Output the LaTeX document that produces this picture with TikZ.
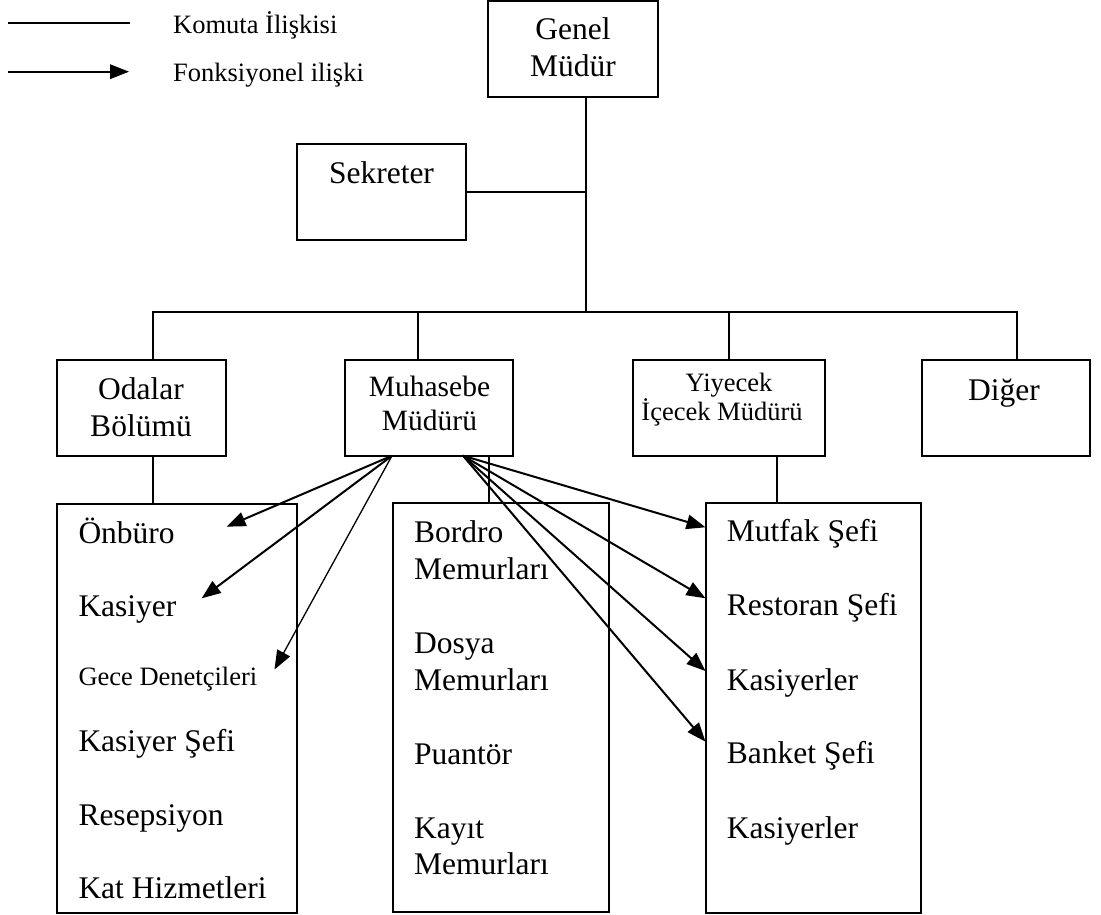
\documentclass[tikz,border=0pt]{standalone}
\usepackage{fontspec}
\setmainfont{Liberation Serif}
\usetikzlibrary{arrows.meta}
\tikzset{
  box/.style={draw, line width=2pt, inner sep=0pt, outer sep=0pt, anchor=north west},
  conn/.style={line width=2pt},
  fx/.style={line width=2pt, -{Triangle[length=19pt,width=14.5pt]}},
  fxthin/.style={line width=1.3pt, -{Triangle[length=19pt,width=14.5pt]}},
  lbl/.style={inner sep=0pt, anchor=base, font=\fontsize{31.5}{36}\selectfont},
  item/.style={inner sep=0pt, anchor=base west, font=\fontsize{31.5}{36}\selectfont},
  mid/.style={font=\fontsize{29.5}{34}\selectfont},
  small/.style={font=\fontsize{26.5}{30}\selectfont},
}
\begin{document}
\begin{tikzpicture}[x=1pt,y=-1pt]
\useasboundingbox (0,0) rectangle (1101,915);

% legend
\coordinate (la1) at (8.3,23.3);
\coordinate (lb1) at (130,23.3);
\coordinate (la2) at (8.3,71.7);
\coordinate (lb2) at (129,71.7);
\draw[conn] (la1) -- (lb1);
\draw[fx] (la2) -- (lb2);
\node[item, small] (lg1) at (173,33.3) {Komuta İlişkisi};
\node[item, small] (lg2) at (173,81.7) {Fonksiyonel ilişki};

% boxes
\node[box, minimum width=169.4pt, minimum height=95.7pt] (gm) at (488.3,1.2) {};
\node[box, minimum width=169.3pt, minimum height=96pt] (sek) at (296.7,144) {};
\node[box, minimum width=169pt, minimum height=96.2pt] (od) at (56.7,359.5) {};
\node[box, minimum width=168.3pt, minimum height=96.2pt] (mm) at (345,359.5) {};
\node[box, minimum width=191.7pt, minimum height=96.2pt] (yi) at (633.3,359.5) {};
\node[box, minimum width=168.3pt, minimum height=96.2pt] (dg) at (921.7,359.5) {};
\node[box, minimum width=240pt, minimum height=408.7pt] (odc) at (57.3,504) {};
\node[box, minimum width=216pt, minimum height=408.7pt] (muc) at (393.3,503.3) {};
\node[box, minimum width=215.5pt, minimum height=409.4pt] (yic) at (705.5,503.3) {};

% box labels
\node[lbl] (gm1) at (573,40) {Genel};
\node[lbl] (gm2) at (573,77) {Müdür};
\node[lbl] (sek1) at (381.5,184) {Sekreter};
\node[lbl] (od1) at (141,399.3) {Odalar};
\node[lbl] (od2) at (141,436.7) {Bölümü};
\node[lbl, mid] (mm1) at (429.5,396.7) {Muhasebe};
\node[lbl, mid] (mm2) at (429.5,430) {Müdürü};
\node[lbl, small] (yi1) at (729,391.7) {Yiyecek};
\node[lbl, small] (yi2) at (722,420) {İçecek Müdürü};
\node[lbl] (dg1) at (1004,400) {Diğer};

% left child list
\node[item] (o1) at (78.3,543.3) {Önbüro};
\node[item] (o2) at (78.3,616.7) {Kasiyer};
\node[item, small] (o3) at (78.3,685) {Gece Denetçileri};
\node[item] (o4) at (78.3,751.7) {Kasiyer Şefi};
\node[item] (o5) at (78.3,825) {Resepsiyon};
\node[item] (o6) at (78.3,898.3) {Kat Hizmetleri};

% middle child list
\node[item] (m1) at (414,542.7) {Bordro};
\node[item] (m2) at (414,579.5) {Memurları};
\node[item] (m3) at (414,653.3) {Dosya};
\node[item] (m4) at (414,690.5) {Memurları};
\node[item] (m5) at (414,764) {Puantör};
\node[item] (m6) at (414,838.3) {Kayıt};
\node[item] (m7) at (414,874) {Memurları};

% right child list
\node[item] (y1) at (726.7,541.7) {Mutfak Şefi};
\node[item] (y2) at (726.7,615.7) {Restoran Şefi};
\node[item] (y3) at (726.7,690) {Kasiyerler};
\node[item] (y4) at (726.7,763.3) {Banket Şefi};
\node[item] (y5) at (726.7,838.3) {Kasiyerler};

% command relations
\coordinate (jb) at (585.7,311.7);
\coordinate (d1) at (153,311.7);
\coordinate (d2) at (417.5,311.7);
\coordinate (d3) at (729.3,311.7);
\coordinate (d5) at (1016.7,311.7);
\coordinate (dm) at (489.3,480);
\coordinate (dy) at (777.3,480);
\draw[conn] (gm.south -| jb) -- (jb);
\draw[conn] (sek.east) -- (sek.east -| jb);
\draw[conn] (od.north -| d1) -- (d1) -- (d5) -- (dg.north -| d5);
\draw[conn] (d2) -- (mm.north -| d2);
\draw[conn] (d3) -- (yi.north -| d3);
\draw[conn] (od.south -| d1) -- (odc.north -| d1);
\draw[conn] (mm.south -| dm) -- (muc.north -| dm);
\draw[conn] (yi.south -| dy) -- (yic.north -| dy);

% functional relations
\coordinate (sl) at (392,0);
\coordinate (sr) at (463,0);
\coordinate (t1) at (226.5,526.7);
\coordinate (t2) at (201.7,598.3);
\coordinate (t3) at (274.5,669.5);
\coordinate (r1) at (705.5,527.3);
\coordinate (r2) at (705.5,598.3);
\coordinate (r3) at (705.5,671);
\coordinate (r4) at (705.5,741.7);
\draw[fx] (mm.south -| sl) -- (t1);
\draw[fx] (mm.south -| sl) -- (t2);
\draw[fxthin] (mm.south -| sl) -- (t3);
\draw[fx] (mm.south -| sr) -- (r1);
\draw[fx] (mm.south -| sr) -- (r2);
\draw[fx] (mm.south -| sr) -- (r3);
\draw[fx] (mm.south -| sr) -- (r4);
\end{tikzpicture}
\end{document}
